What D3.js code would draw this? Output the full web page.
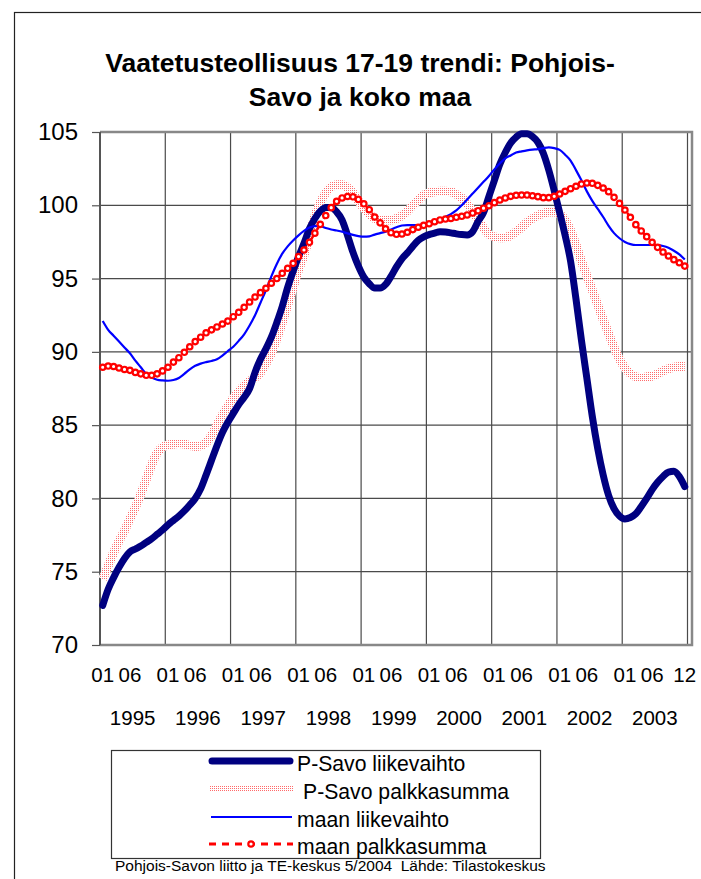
<!DOCTYPE html>
<html>
<head>
<meta charset="utf-8">
<script src="https://cdn.jsdelivr.net/npm/d3@7"></script>
<style>
  body { margin: 0; background: #fff; }
  svg { display: block; font-family: "Liberation Sans", Arial, sans-serif; }
</style>
</head>
<body>
<svg id="chart" width="701" height="879"></svg>
<script>
  // --- data (monthly 1995-01 .. 2003-12) ---
  const years = [1995, 1996, 1997, 1998, 1999, 2000, 2001, 2002, 2003];
  const months = ['01', '02', '03', '04', '05', '06', '07', '08', '09', '10', '11', '12'];
  const monthTickLabels = ['01', '06'];
  const lastTickLabel = '12';
  const yTicks = [70, 75, 80, 85, 90, 95, 100, 105];

  const titleLines = ['Vaatetusteollisuus 17-19 trendi: Pohjois-', 'Savo ja koko maa'];
  const seriesNames = ['P-Savo liikevaihto', 'P-Savo palkkasumma', 'maan liikevaihto', 'maan palkkasumma'];
  const footnote = 'Pohjois-Savon liitto ja TE-keskus 5/2004  Lähde: Tilastokeskus';

  const pSavoLiikevaihto = [
    72.7, 73.8, 74.6, 75.3, 75.9, 76.35, 76.55, 76.75, 77.0, 77.25,
    77.55, 77.85, 78.2, 78.5, 78.8, 79.15, 79.55, 80.0, 80.65, 81.6,
    82.6, 83.6, 84.5, 85.2, 85.8, 86.4, 86.9, 87.5, 88.6, 89.5,
    90.2, 91.0, 92.0, 93.1, 94.4, 95.5, 96.5, 97.4, 98.4, 99.1,
    99.6, 99.85, 99.85, 99.55, 99.0, 97.95, 96.8, 95.85, 95.1, 94.65,
    94.35, 94.35, 94.6, 95.15, 95.8, 96.35, 96.75, 97.2, 97.6, 97.85,
    98.0, 98.1, 98.2, 98.18, 98.12, 98.05, 98.0, 97.98, 98.2, 98.9,
    99.5, 100.6, 101.7, 102.8, 103.6, 104.25, 104.65, 104.88, 104.88, 104.7,
    104.3, 103.55, 102.4, 101.0, 99.5, 97.95, 96.2, 93.6, 90.8, 88.2,
    85.6, 83.4, 81.6, 80.2, 79.3, 78.8, 78.6, 78.7, 78.95, 79.45,
    80.0, 80.6, 81.1, 81.5, 81.8, 81.85, 81.5, 80.8
  ];

  const pSavoPalkkasumma = [
    74.5, 75.4, 76.3, 77.1, 77.8, 78.6, 79.4, 80.3, 81.3, 82.3,
    83.1, 83.5, 83.65, 83.7, 83.75, 83.7, 83.6, 83.55, 83.6, 83.8,
    84.3, 85.0, 85.7, 86.3, 86.85, 87.3, 87.7, 88.0, 88.25, 88.6,
    89.2, 89.9, 90.9, 92.0, 93.2, 94.4, 95.6, 96.6, 97.9, 99.25,
    100.2, 100.85, 101.25, 101.4, 101.4, 101.2, 100.85, 100.3, 99.8, 99.4,
    99.1, 99.0, 99.0, 99.0, 99.1, 99.3, 99.6, 100.0, 100.35, 100.7,
    100.85, 100.92, 100.95, 100.95, 100.92, 100.75, 100.5, 100.1, 99.6, 99.0,
    98.45, 98.0, 97.85, 97.78, 97.8, 97.95, 98.2, 98.5, 98.85, 99.1,
    99.3, 99.45, 99.55, 99.55, 99.4, 99.0, 98.3, 97.3, 96.2, 95.2,
    94.2, 93.2, 92.2, 91.25, 90.3, 89.5, 88.9, 88.5, 88.3, 88.25,
    88.3, 88.35, 88.5, 88.7, 88.85, 88.95, 89.0, 89.0
  ];

  const maanLiikevaihto = [
    92.1, 91.5, 91.1, 90.7, 90.3, 89.9, 89.4, 88.95, 88.5, 88.25,
    88.1, 88.05, 88.03, 88.08, 88.22, 88.5, 88.8, 89.05, 89.2, 89.3,
    89.38, 89.5, 89.75, 90.05, 90.35, 90.75, 91.2, 91.8, 92.5, 93.35,
    94.2, 95.15, 96.0, 96.7, 97.2, 97.6, 97.95, 98.25, 98.48, 98.58,
    98.57, 98.45, 98.35, 98.28, 98.2, 98.08, 97.98, 97.9, 97.86, 97.88,
    98.0, 98.1, 98.2, 98.35, 98.5, 98.62, 98.65, 98.65, 98.65, 98.68,
    98.75, 98.85, 99.0, 99.2, 99.4, 99.65, 100.0, 100.4, 100.8, 101.2,
    101.6, 102.0, 102.45, 102.85, 103.2, 103.4, 103.6, 103.68, 103.75, 103.8,
    103.83, 103.9, 103.95, 103.9, 103.78, 103.45, 103.05, 102.4, 101.7, 100.95,
    100.3, 99.75, 99.2, 98.6, 98.1, 97.75, 97.5, 97.35, 97.29, 97.29,
    97.29, 97.29, 97.28, 97.22, 97.1, 96.9, 96.65, 96.3
  ];

  const maanPalkkasumma = [
    88.95, 89.03, 89.0, 88.9, 88.8, 88.74, 88.6, 88.5, 88.4, 88.4,
    88.5, 88.7, 88.95, 89.3, 89.6, 89.97, 90.35, 90.7, 91.0, 91.3,
    91.5, 91.7, 91.9, 92.1, 92.4, 92.7, 93.04, 93.4, 93.74, 94.04,
    94.34, 94.68, 95.0, 95.36, 95.7, 96.04, 96.5, 96.95, 97.47, 98.1,
    98.7, 99.3, 99.84, 100.27, 100.5, 100.6, 100.58, 100.4, 100.1, 99.7,
    99.2, 98.8, 98.4, 98.13, 98.02, 98.04, 98.16, 98.34, 98.5, 98.63,
    98.74, 98.88, 99.0, 99.06, 99.1, 99.18, 99.25, 99.34, 99.47, 99.63,
    99.8, 99.97, 100.18, 100.36, 100.5, 100.61, 100.68, 100.7, 100.7, 100.65,
    100.59, 100.52, 100.52, 100.61, 100.77, 100.95, 101.13, 101.3, 101.45, 101.52,
    101.5, 101.36, 101.18, 100.93, 100.54, 100.13, 99.68, 99.18, 98.68, 98.25,
    97.86, 97.47, 97.13, 96.81, 96.54, 96.29, 96.08, 95.85
  ];

  const categories = years.flatMap(function (y) {
    return months.map(function (m) { return y + '-' + m; });
  });

  // --- layout ---
  var svg = d3.select('#chart');
  var plot = { left: 100, top: 132, right: 692, bottom: 645 };

  var x = d3.scaleBand()
    .domain(categories)
    .range([plot.left, 687.5]);
  var y = d3.scaleLinear()
    .domain([70, 105])
    .range([plot.bottom, plot.top]);
  var cx = function (d, i) { return x(categories[i]) + x.bandwidth() / 2; };

  var defs = svg.append('defs');
  var pat = defs.append('pattern')
    .attr('id', 'pinkDots')
    .attr('patternUnits', 'userSpaceOnUse')
    .attr('width', 2)
    .attr('height', 2);
  pat.append('rect').attr('width', 2).attr('height', 2).attr('fill', '#fff');
  pat.append('rect').attr('width', 1).attr('height', 1).attr('fill', '#ff6a6a');

  svg.append('rect')
    .attr('width', 701).attr('height', 879)
    .attr('fill', '#fff');

  /* outer chart frame */
  svg.append('rect')
    .attr('x', 14.5).attr('y', 12.5)
    .attr('width', 720).attr('height', 900)
    .attr('fill', 'none')
    .attr('stroke', '#222')
    .attr('stroke-width', 1.2);

  /* title */
  svg.append('text')
    .attr('text-anchor', 'middle')
    .attr('font-size', 26.5)
    .attr('font-weight', 'bold')
    .selectAll('tspan')
    .data(titleLines)
    .enter()
    .append('tspan')
    .attr('x', 360)
    .attr('y', function (d, i) { return 72 + i * 34; })
    .text(function (d) { return d; });

  /* gridlines */
  var grid = svg.append('g').attr('stroke', '#4a4a4a').attr('stroke-width', 1.2);
  grid.selectAll('line.h')
    .data(yTicks.slice(1, -1))
    .enter()
    .append('line')
    .attr('x1', plot.left).attr('x2', plot.right)
    .attr('y1', function (d) { return y(d); })
    .attr('y2', function (d) { return y(d); });

  var yearEdges = years.slice(1).map(function (yr) { return x(yr + '-01'); }).concat([x.range()[1]]);
  grid.selectAll('line.v')
    .data(yearEdges)
    .enter()
    .append('line')
    .attr('x1', function (d) { return d; })
    .attr('x2', function (d) { return d; })
    .attr('y1', plot.top).attr('y2', plot.bottom);

  /* plot border */
  svg.append('path')
    .attr('d', 'M' + plot.left + ',' + plot.top + 'H' + plot.right + 'V' + plot.bottom + 'H' + plot.left)
    .attr('fill', 'none')
    .attr('stroke', '#888')
    .attr('stroke-width', 2.5);

  /* y axis */
  var yAxis = svg.append('g')
    .attr('transform', 'translate(' + plot.left + ',0)')
    .call(d3.axisLeft(y).tickValues(yTicks).tickSize(8).tickPadding(14));
  yAxis.select('.domain').remove();
  yAxis.selectAll('.tick line').attr('stroke', '#555').attr('stroke-width', 1.2);
  yAxis.selectAll('.tick text')
    .attr('font-size', 24)
    .attr('font-family', '"Liberation Sans", Arial, sans-serif')
    .attr('fill', '#000');
  svg.append('line')
    .attr('x1', plot.left).attr('x2', plot.left)
    .attr('y1', plot.top).attr('y2', plot.bottom)
    .attr('stroke', '#555')
    .attr('stroke-width', 2);

  /* x labels: months and years */
  var monthTicks = categories.filter(function (c) {
    return monthTickLabels.indexOf(c.slice(5)) >= 0;
  }).concat([categories[categories.length - 1]]);
  svg.append('g')
    .selectAll('text')
    .data(monthTicks)
    .enter()
    .append('text')
    .attr('x', function (d) { return x(d) + x.bandwidth() / 2; })
    .attr('y', 682)
    .attr('text-anchor', 'middle')
    .attr('font-size', 20.5)
    .text(function (d, i) { return i === monthTicks.length - 1 ? lastTickLabel : d.slice(5); });

  svg.append('g')
    .selectAll('text')
    .data(years)
    .enter()
    .append('text')
    .attr('x', function (d) { return x(d + '-01') + x.step() * 6; })
    .attr('y', 725)
    .attr('text-anchor', 'middle')
    .attr('font-size', 20.5)
    .text(function (d) { return d; });

  /* series */
  var smooth = d3.line()
    .x(cx)
    .y(function (d) { return y(d); })
    .curve(d3.curveMonotoneX);

  svg.append('path')
    .datum(pSavoPalkkasumma)
    .attr('d', smooth)
    .attr('fill', 'none')
    .attr('stroke', 'url(#pinkDots)')
    .attr('stroke-width', 9)
    .attr('stroke-linejoin', 'round');

  svg.append('path')
    .datum(pSavoLiikevaihto)
    .attr('d', smooth)
    .attr('fill', 'none')
    .attr('stroke', '#000080')
    .attr('stroke-width', 7)
    .attr('stroke-linecap', 'round')
    .attr('stroke-linejoin', 'round');

  svg.append('path')
    .datum(maanLiikevaihto)
    .attr('d', smooth)
    .attr('fill', 'none')
    .attr('stroke', '#0000ff')
    .attr('stroke-width', 2.2);

  svg.append('path')
    .datum(maanPalkkasumma)
    .attr('d', smooth)
    .attr('fill', 'none')
    .attr('stroke', '#ff0000')
    .attr('stroke-width', 2.5)
    .attr('stroke-dasharray', '7,6');

  svg.append('g')
    .selectAll('circle')
    .data(maanPalkkasumma)
    .enter()
    .append('circle')
    .attr('cx', cx)
    .attr('cy', function (d) { return y(d); })
    .attr('r', 2.7)
    .attr('fill', '#fff')
    .attr('stroke', '#ff0000')
    .attr('stroke-width', 2.2);

  /* legend */
  var legend = svg.append('g');
  legend.append('rect')
    .attr('x', 111.5).attr('y', 750.5)
    .attr('width', 429).attr('height', 108)
    .attr('fill', '#fff')
    .attr('stroke', '#333')
    .attr('stroke-width', 1.2);

  var rowY = [761, 789, 817, 844];
  var textX = [297, 303, 297, 297];

  legend.append('line')
    .attr('x1', 212).attr('x2', 290)
    .attr('y1', rowY[0]).attr('y2', rowY[0])
    .attr('stroke', '#000080').attr('stroke-width', 7).attr('stroke-linecap', 'round');
  legend.append('rect')
    .attr('x', 209).attr('y', rowY[1] - 3)
    .attr('width', 85).attr('height', 6)
    .attr('fill', 'url(#pinkDots)');
  legend.append('line')
    .attr('x1', 211).attr('x2', 292)
    .attr('y1', rowY[2]).attr('y2', rowY[2])
    .attr('stroke', '#0000ff').attr('stroke-width', 2.2);
  legend.append('line')
    .attr('x1', 209).attr('x2', 293)
    .attr('y1', rowY[3]).attr('y2', rowY[3])
    .attr('stroke', '#ff0000').attr('stroke-width', 3).attr('stroke-dasharray', '7,6');
  legend.append('circle')
    .attr('cx', 251).attr('cy', rowY[3])
    .attr('r', 2.7)
    .attr('fill', '#fff')
    .attr('stroke', '#ff0000').attr('stroke-width', 2.2);

  legend.selectAll('text')
    .data(seriesNames)
    .enter()
    .append('text')
    .attr('x', function (d, i) { return textX[i]; })
    .attr('y', function (d, i) { return rowY[i] + 9.5; })
    .attr('font-size', 21.2)
    .text(function (d) { return d; });

  svg.append('text')
    .attr('x', 115)
    .attr('y', 871)
    .attr('font-size', 15.5)
    .style('white-space', 'pre')
    .text(footnote);
</script>
</body>
</html>
